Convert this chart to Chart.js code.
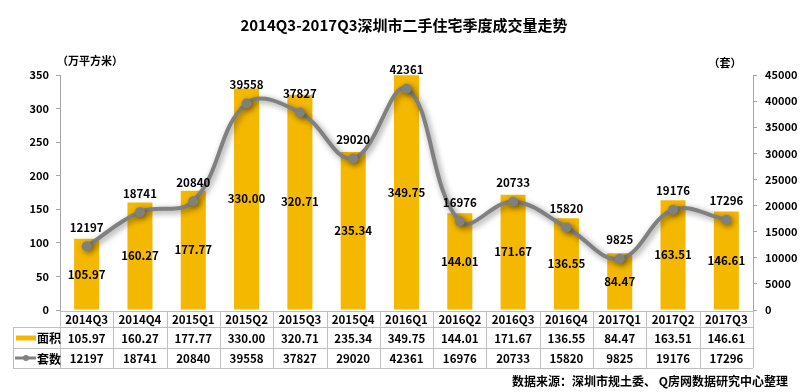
<!DOCTYPE html>
<html>
<head>
<meta charset="utf-8">
<script src="https://cdn.jsdelivr.net/npm/chart.js@4/dist/chart.umd.min.js"></script>
<style>
  html, body { margin: 0; padding: 0; background: #fff; }
  #wrap { width: 800px; height: 392px; position: relative; }
</style>
</head>
<body>
<div id="wrap"><canvas id="c" width="800" height="392"></canvas></div>
<script>
// Data
const quarters = ['2014Q3', '2014Q4', '2015Q1', '2015Q2', '2015Q3', '2015Q4', '2016Q1',
    '2016Q2', '2016Q3', '2016Q4', '2017Q1', '2017Q2', '2017Q3'];
const areaValues = [105.97, 160.27, 177.77, 330.00, 320.71, 235.34, 349.75,
    144.01, 171.67, 136.55, 84.47, 163.51, 146.61];
const unitValues = [12197, 18741, 20840, 39558, 37827, 29020, 42361,
    16976, 20733, 15820, 9825, 19176, 17296];
const areaLabel = '面积';
const unitLabel = '套数';
const chartTitle = '2014Q3-2017Q3深圳市二手住宅季度成交量走势';
const sourceNote = '数据来源：深圳市规土委、 Q房网数据研究中心整理';

const FONT = '"Noto Sans CJK SC", "Open Sans", sans-serif';
const BAR_COLOR = '#F5B800';
const LINE_COLOR = '#808080';
const BORDER = '#BFBFBF';
const NUM_FONT = 'bold 11.5px ' + FONT;

// draws title, unit labels, value labels, data table and source note
const decorPlugin = {
    id: 'decor',
    beforeDatasetDraw(chart, args) {
        if (args.index === 1) {
            const ctx = chart.ctx;
            ctx.save();
            ctx.shadowColor = 'rgba(0,0,0,0.45)';
            ctx.shadowBlur = 6;
            ctx.shadowOffsetX = 2;
            ctx.shadowOffsetY = 2;
        }
    },
    afterDatasetDraw(chart, args) {
        if (args.index === 1) chart.ctx.restore();
    },
    afterDraw(chart) {
        const ctx = chart.ctx;
        const area = chart.chartArea;
        const xs = chart.scales.x;
        ctx.save();
        ctx.fillStyle = '#000';

        // title
        ctx.font = 'bold 15px ' + FONT;
        ctx.textAlign = 'center';
        ctx.textBaseline = 'middle';
        ctx.fillText(chartTitle, 404, 25);

        // axis units
        ctx.font = 'bold 11px ' + FONT;
        ctx.fillText('（万平方米）', 90, 61);
        ctx.fillText('（套）', 725, 63);

        // bar labels (middle of bar)
        ctx.font = NUM_FONT;
        const barMeta = chart.getDatasetMeta(0);
        barMeta.data.forEach((bar, i) => {
            ctx.fillText(areaValues[i].toFixed(2), bar.x, (bar.y + bar.base) / 2);
        });
        // line labels (above point)
        const lineMeta = chart.getDatasetMeta(1);
        lineMeta.data.forEach((pt, i) => {
            ctx.fillText(String(unitValues[i]), pt.x, pt.y - 19);
        });

        // data table
        const half = (xs.getPixelForValue(1) - xs.getPixelForValue(0)) / 2;
        const rows = [area.bottom + 1, 327, 348, 368];
        const tableLeft = 13;
        ctx.strokeStyle = BORDER;
        ctx.lineWidth = 1;
        ctx.beginPath();
        ctx.moveTo(area.left, rows[0] + 0.5); ctx.lineTo(area.right, rows[0] + 0.5);
        for (let r = 1; r < rows.length; r++) {
            ctx.moveTo(tableLeft, rows[r] + 0.5);
            ctx.lineTo(area.right, rows[r] + 0.5);
        }
        ctx.moveTo(tableLeft + 0.5, rows[1]); ctx.lineTo(tableLeft + 0.5, rows[3]);
        for (let i = 0; i <= quarters.length; i++) {
            const x = Math.round(xs.getPixelForValue(i) - half) + 0.5;
            ctx.moveTo(x, rows[0]); ctx.lineTo(x, rows[3]);
        }
        ctx.stroke();

        ctx.fillStyle = '#000';
        ctx.font = NUM_FONT;
        quarters.forEach((q, i) => {
            const x = xs.getPixelForValue(i);
            ctx.fillText(q, x, (rows[0] + rows[1]) / 2 + 1);
            ctx.fillText(areaValues[i].toFixed(2), x, (rows[1] + rows[2]) / 2 + 1);
            ctx.fillText(String(unitValues[i]), x, (rows[2] + rows[3]) / 2 + 1);
        });

        // legend keys in table
        const midA = (rows[1] + rows[2]) / 2;
        const midB = (rows[2] + rows[3]) / 2;
        ctx.fillStyle = BAR_COLOR;
        ctx.fillRect(16, midA - 2, 20, 5);
        ctx.strokeStyle = LINE_COLOR;
        ctx.lineWidth = 3;
        ctx.beginPath();
        ctx.moveTo(15, midB); ctx.lineTo(36, midB);
        ctx.stroke();
        ctx.fillStyle = LINE_COLOR;
        ctx.beginPath();
        ctx.arc(26, midB, 3, 0, Math.PI * 2);
        ctx.fill();
        ctx.fillStyle = '#000';
        ctx.textAlign = 'left';
        ctx.font = 'bold 12px ' + FONT;
        ctx.fillText(areaLabel, 37, midA + 1);
        ctx.fillText(unitLabel, 37, midB + 1);

        // source
        ctx.textAlign = 'right';
        ctx.fillText(sourceNote, 788, 381);
        ctx.restore();
    }
};

const tickFont = { family: FONT, size: 11, weight: 'bold' };

new Chart(document.getElementById('c'), {
    type: 'bar',
    data: {
        labels: quarters,
        datasets: [{
            label: areaLabel,
            data: areaValues,
            backgroundColor: BAR_COLOR,
            barPercentage: 0.47,
            categoryPercentage: 1,
            yAxisID: 'y',
            order: 2
        }, {
            type: 'line',
            label: unitLabel,
            data: unitValues,
            borderColor: LINE_COLOR,
            borderWidth: 4,
            backgroundColor: LINE_COLOR,
            pointRadius: 5,
            pointBorderWidth: 0,
            tension: 0.4,
            yAxisID: 'y1',
            order: 1
        }]
    },
    options: {
        responsive: false,
        animation: false,
        layout: { padding: { top: 75, bottom: 82, left: 0, right: 0 } },
        plugins: {
            legend: { display: false },
            tooltip: { enabled: false }
        },
        scales: {
            x: { display: false },
            y: {
                position: 'left',
                min: 0, max: 350,
                ticks: { stepSize: 50, font: tickFont, color: '#000', padding: 7 },
                grid: { drawOnChartArea: false, color: '#A6A6A6', tickLength: 4 },
                border: { color: '#A6A6A6' },
                afterFit: s => { s.width = 60; }
            },
            y1: {
                position: 'right',
                min: 0, max: 45000,
                ticks: { stepSize: 5000, font: tickFont, color: '#000', padding: 8,
                    callback: v => String(v) },
                grid: { drawOnChartArea: false, color: '#A6A6A6', tickLength: 4 },
                border: { color: '#A6A6A6' },
                afterFit: s => { s.width = 47; }
            }
        }
    },
    plugins: [decorPlugin]
});
</script>
</body>
</html>
